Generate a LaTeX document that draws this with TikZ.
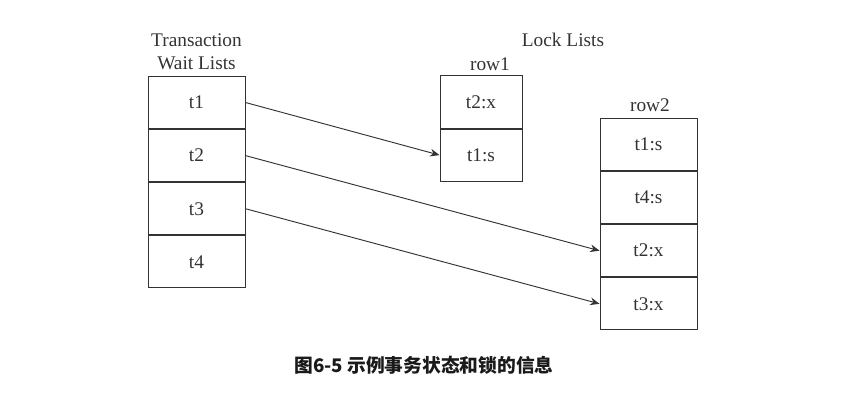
\documentclass[tikz,border=0pt]{standalone}
\usepackage{fontspec}
\setmainfont{Liberation Serif}
\newfontfamily\cjk{Noto Sans CJK SC}
\usetikzlibrary{arrows.meta, positioning}
\definecolor{ink}{HTML}{333333}
\definecolor{capink}{HTML}{1A1A1A}
\tikzset{
  cell/.style={rectangle, draw=ink, line width=0.8pt, minimum width=2.91cm,
    minimum height=1.565cm, inner sep=0pt, text=ink, font=\fontsize{16.5}{19.5}\selectfont},
  cellr/.style={cell, minimum width=2.46cm},
  label/.style={text=ink, align=center, inner sep=0pt, font=\fontsize{16.5}{19.5}\selectfont},
  arrow/.style={-{Stealth[length=8pt, width=6.5pt]}, line width=0.8pt, ink},
}

\begin{document}
\begin{tikzpicture}[x=0.03cm, y=-0.03cm, node distance=0pt]
\useasboundingbox (0,0) rectangle (868,404);
% transaction wait lists
\node[cell] (t1) at (196.5,102.5) {t1};
\node[cell, below=of t1] (t2) {t2};
\node[cell, below=of t2] (t3) {t3};
\node[cell, below=of t3] (t4) {t4};
\node[label, above=5pt of t1] (twl) {Transaction\\Wait Lists};

% lock lists
\node[label] (ll) at (563,40) {Lock Lists};
\node[cellr] (r1x) at (481,102) {t2:x};
\node[cellr, below=of r1x] (r1s) {t1:s};
\node[label] (row1) at (490,64) {row1};
\node[cell] (r2a) at (648.5,144.5) {t1:s};
\node[cell, below=of r2a] (r2b) {t4:s};
\node[cell, below=of r2b] (r2c) {t2:x};
\node[cell, below=of r2c] (r2d) {t3:x};
\node[label] (row2) at (650,105) {row2};

\draw[arrow] (t1.east) -- (r1s.west);
\draw[arrow] (t2.east) -- (r2c.west);
\draw[arrow] (t3.east) -- (r2d.west);

\node[text=capink, font=\cjk\bfseries\fontsize{16}{18}\selectfont] (cap) at (424,365) {图6-5 示例事务状态和锁的信息};
\end{tikzpicture}
\end{document}
